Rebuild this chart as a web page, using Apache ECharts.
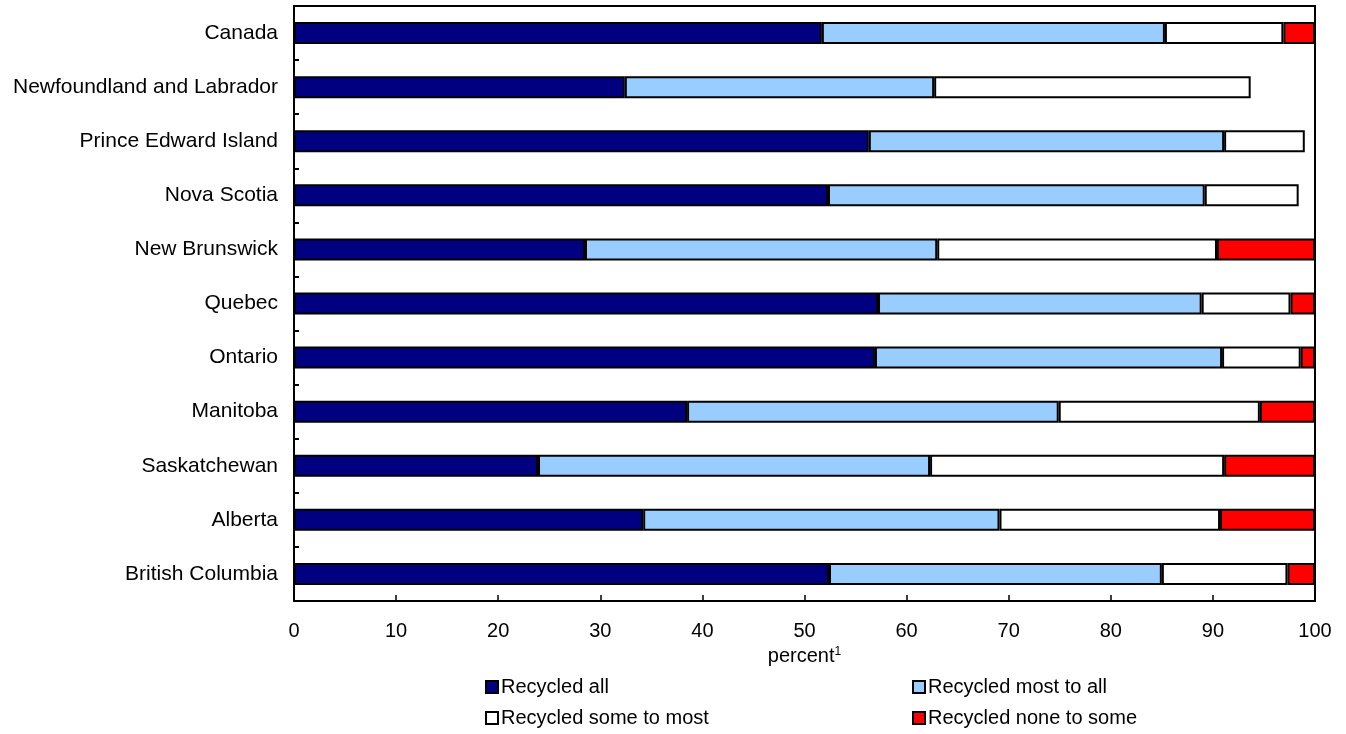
<!DOCTYPE html>
<html>
<head>
<meta charset="utf-8">
<script src="https://cdn.jsdelivr.net/npm/echarts@6/dist/echarts.min.js"></script>
<style>
html,body{margin:0;padding:0;background:#fff;}
#chart{width:1346px;height:734px;}
</style>
</head>
<body>
<div id="chart"></div>
<script>
const categories = ["Canada","Newfoundland and Labrador","Prince Edward Island","Nova Scotia","New Brunswick","Quebec","Ontario","Manitoba","Saskatchewan","Alberta","British Columbia"];
const recycledAll      = [51.7, 32.4, 56.3, 52.3, 28.5, 57.2, 56.9, 38.5, 23.9, 34.2, 52.4];
const recycledMostAll  = [33.6, 30.3, 34.8, 36.9, 34.5, 31.7, 34.0, 36.4, 38.4, 34.9, 32.6];
const recycledSomeMost = [11.6, 31.0,  7.9,  9.2, 27.4,  8.7,  7.7, 19.7, 28.8, 21.6, 12.3];
const recycledNoneSome = [ 3.1, null, null, null,  9.6,  2.4,  1.4,  5.4,  8.9,  9.3,  2.7];
const seriesNames = ["Recycled all","Recycled most to all","Recycled some to most","Recycled none to some"];
const xTicks = {min: 0, max: 100, interval: 10};

const colors = ["#000080","#99CCFF","#FFFFFF","#FF0000"];
const values = [recycledAll, recycledMostAll, recycledSomeMost, recycledNoneSome];
const font = "Liberation Sans, Arial, sans-serif";

const chart = echarts.init(document.getElementById('chart'));

const legendPos = [[485,677],[912,677],[485,708],[912,708]];

const option = {
  animation: false,
  textStyle: {fontFamily: font},
  grid: {left: 294, right: 31, top: 6, bottom: 133, show: true, borderColor: '#000', borderWidth: 2, backgroundColor: 'transparent'},
  legend: seriesNames.map((n,i) => ({
    data: [n],
    left: legendPos[i][0], top: legendPos[i][1],
    padding: 0,
    icon: 'rect', itemWidth: 12, itemHeight: 12,
    itemStyle: {borderColor: '#000', borderWidth: 2},
    textStyle: {fontSize: 20, color: '#000', fontFamily: font, padding: [0,0,0,-2]},
    selectedMode: false
  })),
  xAxis: {
    type: 'value', min: xTicks.min, max: xTicks.max, interval: xTicks.interval,
    axisLine: {show: true, lineStyle: {color: '#000', width: 2}},
    axisTick: {show: true, inside: true, length: 6, lineStyle: {color: '#000', width: 1.5}},
    splitLine: {show: false},
    axisLabel: {fontSize: 20, color: '#000', margin: 20, fontFamily: font},
    name: '{a|percent}{s|1}',
    nameLocation: 'middle', nameGap: 44,
    nameTextStyle: {
      rich: {
        a: {fontSize: 20, color: '#000', fontFamily: font},
        s: {fontSize: 12, color: '#000', fontFamily: font, verticalAlign: 'top', padding: [0,0,10,0]}
      }
    }
  },
  yAxis: {
    type: 'category', data: categories, inverse: true,
    axisLine: {show: true, lineStyle: {color: '#000', width: 2}},
    axisTick: {show: true, inside: true, length: 5, lineStyle: {color: '#000', width: 2}},
    axisLabel: {fontSize: 21, color: '#000', margin: 16, fontFamily: font}
  },
  series: seriesNames.map((n,i) => ({
    name: n, type: 'bar', stack: 'total', barWidth: 22,
    data: values[i],
    itemStyle: {color: colors[i], borderColor: '#000', borderWidth: 2}
  }))
};
chart.setOption(option);
</script>
</body>
</html>
